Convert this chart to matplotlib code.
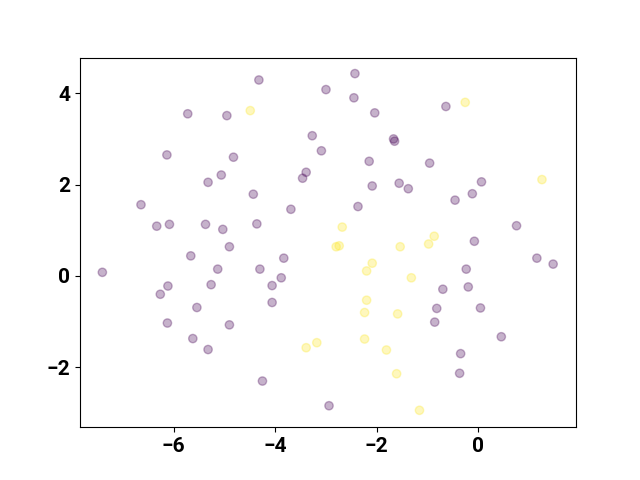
import numpy as np
import matplotlib
matplotlib.use("Agg")
import matplotlib.pyplot as plt

# class 0 points (purple)
x0 = [-7.40, -6.64, -6.33, -6.26, -6.13, -6.08, -6.11, -6.12, -5.72, -5.66,
      -5.62, -5.54, -5.37, -5.32, -5.32, -5.26, -5.13, -5.06, -5.03, -4.95,
      -4.90, -4.90, -4.82, -4.43, -4.36, -4.32, -4.30, -4.25, -4.06, -4.06,
      -3.88, -3.83, -3.69, -3.46, -3.39, -3.27, -3.09, -3.00, -2.94, -2.45,
      -2.43, -2.37, -2.15, -2.09, -2.04, -1.67, -1.65, -1.56, -1.38, -0.96,
      -0.86, -0.82, -0.70, -0.64, -0.46, -0.35, -0.37, -0.24, -0.20, -0.12,
      -0.08, 0.04, 0.06, 0.45, 0.75, 1.15, 1.47]
y0 = [0.08, 1.56, 1.09, -0.40, 2.65, 1.13, -0.22, -1.03, 3.55, 0.44,
      -1.37, -0.69, 1.13, 2.05, -1.61, -0.19, 0.15, 2.21, 1.02, 3.51,
      0.64, -1.07, 2.60, 1.79, 1.14, 4.29, 0.15, -2.30, -0.21, -0.58,
      -0.04, 0.39, 1.46, 2.14, 2.27, 3.07, 2.74, 4.08, -2.84, 3.90,
      4.43, 1.52, 2.51, 1.97, 3.57, 3.00, 2.95, 2.03, 1.91, 2.47,
      -1.01, -0.71, -0.29, 3.71, 1.66, -1.70, -2.13, 0.15, -0.24, 1.80,
      0.76, -0.70, 2.06, -1.33, 1.10, 0.39, 0.26]

# class 1 points (yellow)
x1 = [-4.49, -0.26, 1.25, -2.68, -2.80, -2.74, -1.54, -0.98, -0.87, -2.09,
      -2.20, -1.32, -2.20, -2.24, -1.59, -2.24, -3.18, -3.39, -1.81, -1.61,
      -1.16]
y1 = [3.62, 3.80, 2.11, 1.07, 0.64, 0.66, 0.64, 0.70, 0.87, 0.28,
      0.11, -0.04, -0.53, -0.80, -0.83, -1.38, -1.46, -1.57, -1.62, -2.14,
      -2.94]

xs = np.array(x0 + x1)
ys = np.array(y0 + y1)
labels = np.array([0] * len(x0) + [1] * len(x1))

plt.rcParams["font.family"] = ["Roboto", "DejaVu Sans"]

fig, ax = plt.subplots(figsize=(6.4, 4.8), dpi=100)
ax.scatter(xs, ys, c=labels, cmap="viridis", alpha=0.3)
ax.set_xlim(-7.84, 1.92)
ax.set_ylim(-3.31, 4.78)
ax.set_xticks([-6, -4, -2, 0])
ax.set_yticks([-2, 0, 2, 4])
for lab in ax.get_xticklabels() + ax.get_yticklabels():
    lab.set_fontsize(15)
    lab.set_fontweight("bold")

fig.savefig("out.png", dpi=100)
